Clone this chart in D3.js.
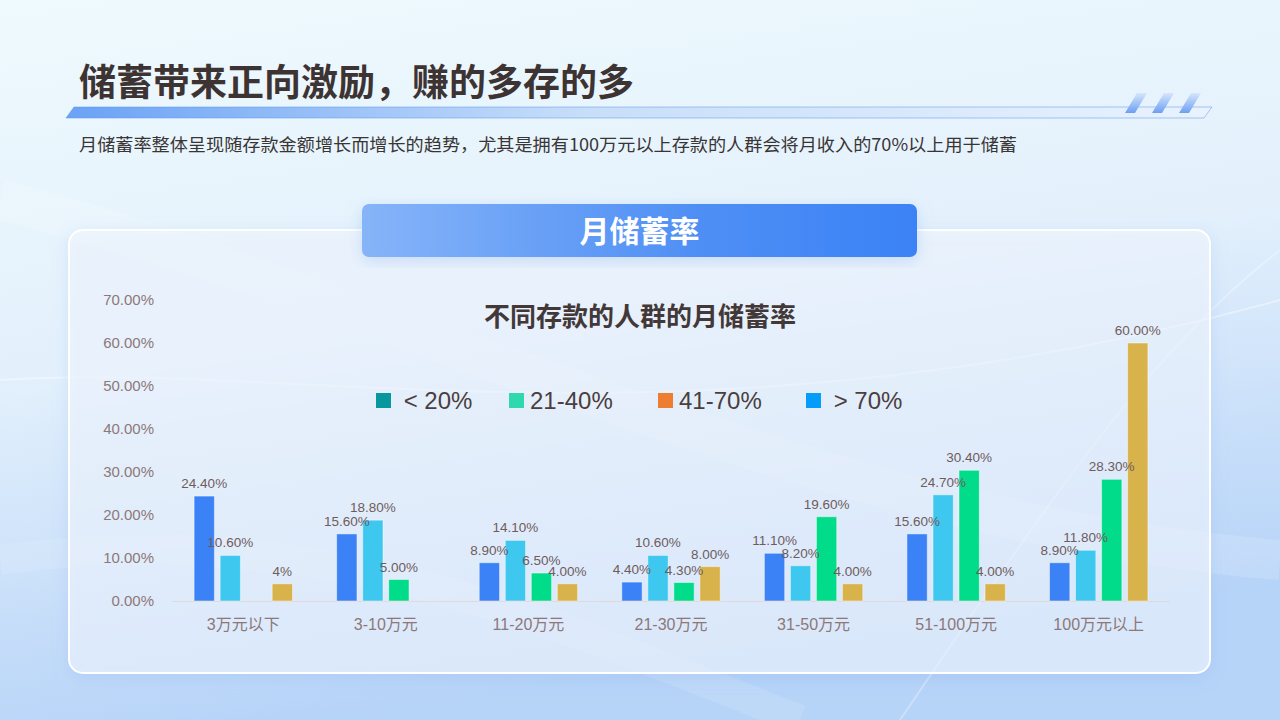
<!DOCTYPE html>
<html><head><meta charset="utf-8">
<script src="https://cdn.jsdelivr.net/npm/d3@7/dist/d3.min.js"></script>
<style>
html,body{margin:0;padding:0;width:1280px;height:720px;overflow:hidden;}
body{font-family:"Noto Sans CJK SC","Noto Sans",sans-serif;}
</style></head><body>
<svg id="c" width="1280" height="720"></svg>
<script>
const categories = ["3万元以下","3-10万元","11-20万元","21-30万元","31-50万元","51-100万元","100万元以上"];
const seriesNames = ["\u00a0< 20%","21-40%","41-70%","\u00a0> 70%"];
const legendColors = ["#08979c","#2fd9ad","#ed7d31","#069dfa"];
const barColors = ["#3b82f6","#3ec8f0","#00dc89","#d8b34b"];
const s1 = [24.4,15.6,8.9,4.4,11.1,15.6,8.9];
const s2 = [10.6,18.8,14.1,10.6,8.2,24.7,11.8];
const s3 = [null,5.0,6.5,4.3,19.6,30.4,28.3];
const s4 = [4,null,4.0,8.0,4.0,4.0,60.0];
const labels4 = ["4%",null,"4.00%","8.00%","4.00%","4.00%","60.00%"];
const yTicks = [0,10,20,30,40,50,60,70];

const svg = d3.select("#c");
const defs = svg.append("defs");
const bg = defs.append("linearGradient").attr("id","bg").attr("x1",0).attr("y1",0).attr("x2",0.25).attr("y2",1);
bg.append("stop").attr("offset",0).attr("stop-color","#eefafd");
bg.append("stop").attr("offset",0.5).attr("stop-color","#e3f0fc");
bg.append("stop").attr("offset",1).attr("stop-color","#b6d3f8");
svg.append("rect").attr("width",1280).attr("height",720).attr("fill","url(#bg)");
const streak = (d,o,w)=>svg.append("path").attr("d",d).attr("fill","none").attr("stroke","#ffffff").attr("stroke-opacity",o).attr("stroke-width",w);
streak("M0,380 C300,360 700,460 1280,300",0.4,2);
streak("M0,200 C400,300 800,520 1280,560",0.15,40);
streak("M900,720 C1050,500 1150,350 1280,250",0.3,2);
streak("M0,560 C300,520 500,600 800,720",0.12,30);

// title
svg.append("text").attr("x",79).attr("y",96).attr("font-size",37).attr("font-weight",700)
  .attr("fill","#3d3333").text("储蓄带来正向激励，赚的多存的多");
const ul = defs.append("linearGradient").attr("id","ul").attr("x1",0).attr("x2",1);
ul.append("stop").attr("offset",0).attr("stop-color","#6aa2f5");
ul.append("stop").attr("offset",0.45).attr("stop-color","#c7def9");
ul.append("stop").attr("offset",1).attr("stop-color","#e9f2fd");
svg.append("path").attr("d","M74,107 L1212,107 L1204,118 L66,118 Z").attr("fill","url(#ul)");
svg.append("path").attr("d","M74,107 L1212,107 L1204,118 L66,118 Z").attr("fill","none").attr("stroke","#5b95f2").attr("stroke-opacity",0.5).attr("stroke-width",1);
const st = defs.append("linearGradient").attr("id","st").attr("x1",0).attr("y1",0).attr("x2",0).attr("y2",1);
st.append("stop").attr("offset",0).attr("stop-color","#d6e6fc");
st.append("stop").attr("offset",1).attr("stop-color","#6c9ff2");
[0,1,2].forEach(i=>{
  const x0 = 1137 + i*27;
  svg.append("path").attr("d",`M${x0},93 L${x0+10},93 L${x0-2},113 L${x0-12},113 Z`).attr("fill","url(#st)");
});
svg.append("text").attr("x",79).attr("y",151).attr("font-size",17.5).attr("fill","#3a3535")
  .attr("textLength",938).attr("lengthAdjust","spacingAndGlyphs")
  .text("月储蓄率整体呈现随存款金额增长而增长的趋势，尤其是拥有100万元以上存款的人群会将月收入的70%以上用于储蓄");

// card
const sh = defs.append("filter").attr("id","sh").attr("x","-10%").attr("y","-10%").attr("width","120%").attr("height","130%");
sh.append("feDropShadow").attr("dx",0).attr("dy",4).attr("stdDeviation",8).attr("flood-color","#7aa6e8").attr("flood-opacity",0.3);
svg.append("rect").attr("x",69).attr("y",230).attr("width",1141).attr("height",443).attr("rx",14)
  .attr("fill","#f3f8fe").attr("fill-opacity",0.6).attr("stroke","#ffffff").attr("stroke-width",2).attr("filter","url(#sh)");

// header banner
const hb = defs.append("linearGradient").attr("id","hb").attr("x1",0).attr("x2",1);
hb.append("stop").attr("offset",0).attr("stop-color","#86b4f8");
hb.append("stop").attr("offset",0.6).attr("stop-color","#4f8ff5");
hb.append("stop").attr("offset",1).attr("stop-color","#3b82f6");
svg.append("rect").attr("x",362).attr("y",204).attr("width",555).attr("height",53).attr("rx",7)
  .attr("fill","url(#hb)").attr("filter","url(#sh)");
svg.append("text").attr("x",639.5).attr("y",242).attr("text-anchor","middle").attr("font-size",30)
  .attr("font-weight",700).attr("fill","#ffffff").text("月储蓄率");

// chart
const x0 = d3.scaleBand().domain(categories).range([172,1170]).paddingInner(0.31).paddingOuter(0.155);
const x1 = d3.scaleBand().domain(d3.range(4)).range([0,x0.bandwidth()]).paddingInner(0.22);
const y = d3.scaleLinear().domain([0,70]).range([601,300]);

svg.append("text").attr("x",640).attr("y",326).attr("text-anchor","middle").attr("font-size",26)
  .attr("font-weight",700).attr("fill","#433838").text("不同存款的人群的月储蓄率");

const yAxis = svg.append("g").attr("transform","translate(157,0)")
  .call(d3.axisLeft(y).tickValues(yTicks).tickSize(0).tickFormat(d=>d.toFixed(2)+"%"));
yAxis.select(".domain").remove();
yAxis.selectAll("text").attr("font-family","Liberation Sans, Arial, sans-serif").attr("font-size",15).attr("fill","#8c7878").attr("dx",0);

svg.append("line").attr("x1",172).attr("x2",1170).attr("y1",y(0)+0.5).attr("y2",y(0)+0.5).attr("stroke","#e2d8d8").attr("stroke-width",1);

const xAxis = svg.append("g").attr("transform",`translate(0,${y(0)})`)
  .call(d3.axisBottom(x0).tickSize(0).tickPadding(18));
xAxis.select(".domain").remove();
xAxis.selectAll("text").attr("font-size",16).attr("fill","#8c7878").attr("font-family","Liberation Sans, Noto Sans CJK SC, sans-serif");

const series = [s1,s2,s3,s4];
const rows = [];
categories.forEach((c,i)=>{
  series.forEach((s,j)=>{
    if(s[i]!=null) rows.push({c, j, v:s[i], lab: j===3 ? labels4[i] : s[i].toFixed(2)+"%"});
  });
});
const g = svg.append("g");
g.selectAll("rect").data(rows).join("rect")
  .attr("x",d=>x0(d.c)+x1(d.j)).attr("width",x1.bandwidth())
  .attr("y",d=>y(d.v)).attr("height",d=>y(0)-y(d.v))
  .attr("fill",d=>barColors[d.j]).attr("stroke","#ffffff").attr("stroke-opacity",0.45).attr("stroke-width",1);
g.selectAll("text").data(rows).join("text")
  .attr("x",d=>x0(d.c)+x1(d.j)+x1.bandwidth()/2).attr("y",d=>y(d.v)-8)
  .attr("text-anchor","middle").attr("font-size",13.5).attr("fill","#6e5c5c")
  .attr("font-family","Liberation Sans, Arial, sans-serif").text(d=>d.lab);

// legend
const lg = svg.append("g");
const lx = [376,509,658,806];
seriesNames.forEach((n,i)=>{
  lg.append("rect").attr("x",lx[i]).attr("y",393).attr("width",15).attr("height",15).attr("fill",legendColors[i]);
  lg.append("text").attr("x",lx[i]+21).attr("y",409).attr("font-size",24).attr("fill","#4a3e3e")
    .attr("font-family","Liberation Sans, Noto Sans, sans-serif").text(n);
});
</script>
</body></html>
